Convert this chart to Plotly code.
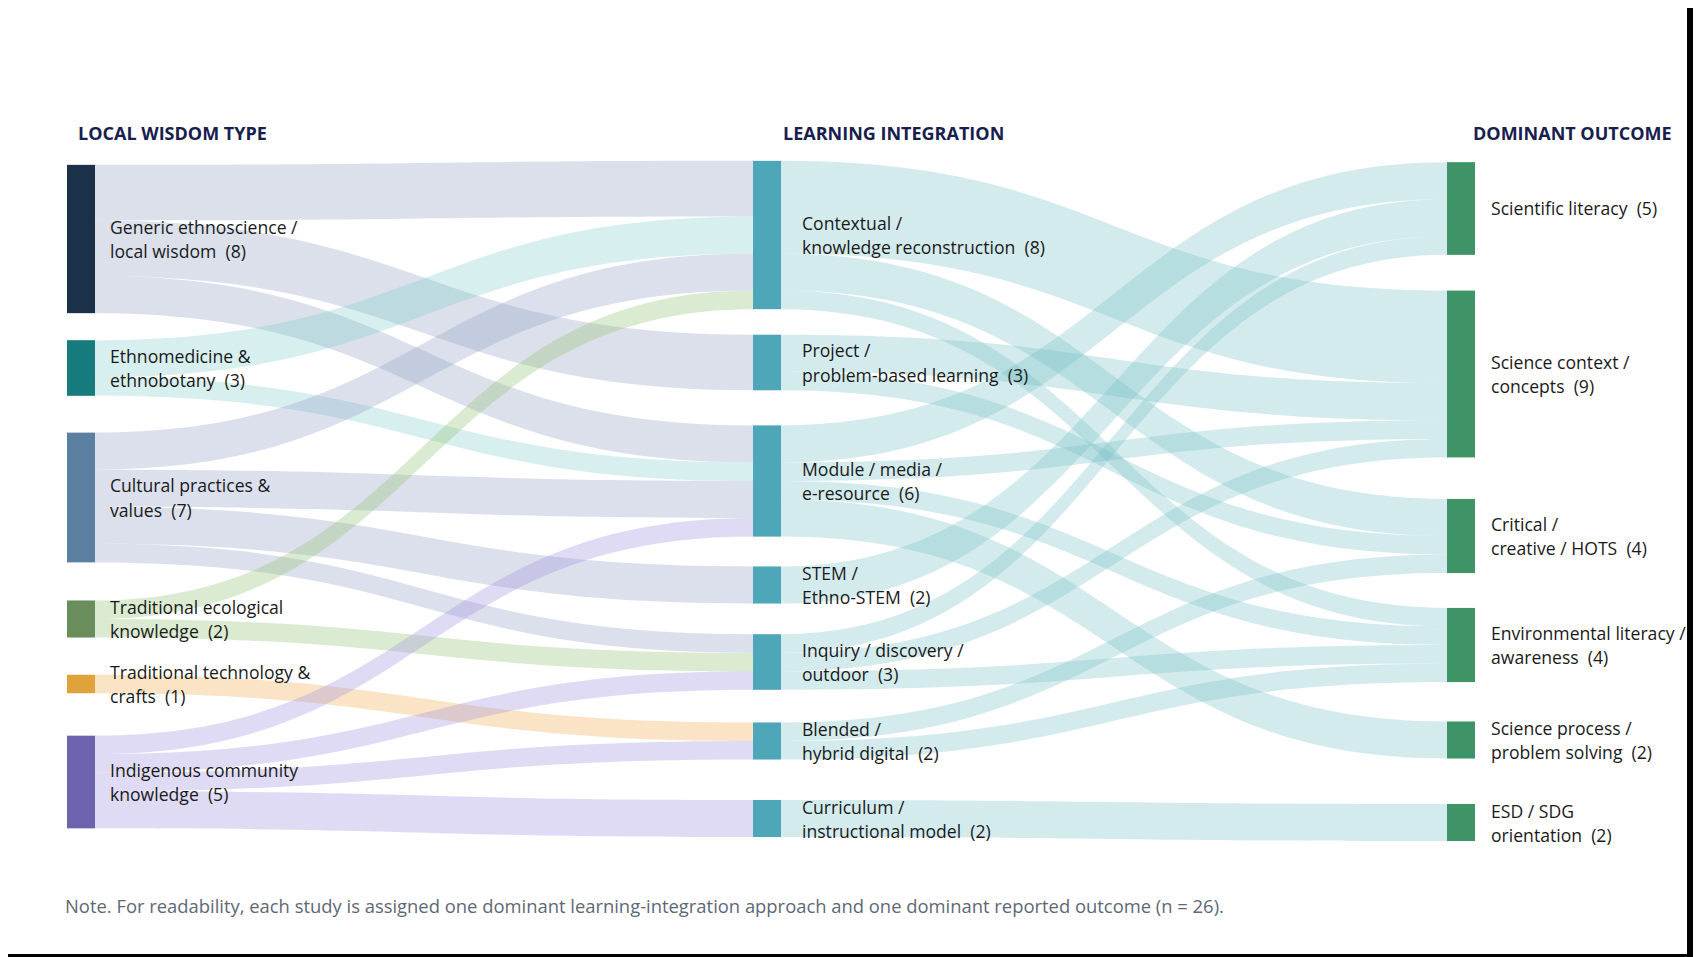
import plotly.graph_objects as go

# ---------------- data ----------------
local_wisdom = ["Generic ethnoscience /<br>local wisdom", "Ethnomedicine &<br>ethnobotany",
                "Cultural practices &<br>values", "Traditional ecological<br>knowledge",
                "Traditional technology &<br>crafts", "Indigenous community<br>knowledge"]
integration = ["Contextual /<br>knowledge reconstruction", "Project /<br>problem-based learning",
               "Module / media /<br>e-resource", "STEM /<br>Ethno-STEM", "Inquiry / discovery /<br>outdoor",
               "Blended /<br>hybrid digital", "Curriculum /<br>instructional model"]
outcomes = ["Scientific literacy", "Science context /<br>concepts", "Critical /<br>creative / HOTS",
            "Environmental literacy /<br>awareness", "Science process /<br>problem solving",
            "ESD / SDG<br>orientation"]

# stage 1: local wisdom type -> learning integration
s1_source = [0, 0, 0, 1, 1, 2, 2, 2, 2, 3, 3, 4, 5, 5, 5, 5]
s1_target = [0, 1, 2, 0, 2, 0, 2, 3, 4, 0, 4, 5, 2, 4, 5, 6]
s1_value = [3, 3, 2, 2, 1, 2, 2, 2, 1, 1, 1, 1, 1, 1, 1, 2]

# stage 2: learning integration -> dominant outcome
s2_source = [0, 0, 0, 1, 1, 2, 2, 2, 2, 3, 4, 4, 4, 5, 5, 6]
s2_target = [1, 2, 3, 1, 2, 0, 1, 3, 4, 0, 0, 1, 3, 2, 3, 5]
s2_value = [5, 2, 1, 2, 1, 2, 1, 1, 2, 2, 1, 1, 1, 1, 1, 2]

column_titles = ["LOCAL WISDOM TYPE", "LEARNING INTEGRATION", "DOMINANT OUTCOME"]
note_text = ("Note. For readability, each study is assigned one dominant learning-integration "
             "approach and one dominant reported outcome (n = 26).")

# ---------------- layout / style ----------------
SCREEN_W, SCREEN_H = 1701, 957
OFF = 8                              # page body margin
W, H = SCREEN_W - OFF, SCREEN_H - OFF  # figure size


def fx(x):  # screen px -> figure px
    return x - OFF


Y_TOP, Y_BOT = 150, 860            # screen px extent of the sankey domain
COL_X = [81, 767, 1461]            # node centre x (screen px)
LABEL_X = [108, 800, 1489]         # label start x (screen px)
left_cy = [239, 368, 497.5, 619, 684, 782]
mid_cy = [235, 362.5, 481, 585, 662, 741, 818.5]
right_cy = [208.5, 374, 536, 645, 740, 822.5]
LINE_H = 24                        # label line spacing (px)

left_colors = ["#1b3049", "#177b7d", "#5b7fa0", "#6a8d5c", "#e0a23a", "#6c62ad"]
left_link_colors = ["rgba(150,163,195,0.34)", "rgba(130,205,205,0.32)", "rgba(150,165,198,0.34)",
                    "rgba(150,195,120,0.34)", "rgba(242,170,75,0.32)", "rgba(160,150,222,0.34)"]
mid_color = "#4ea6b9"
right_color = "#3e9466"
mid_link_color = "rgba(112,188,196,0.30)"

FONT = "Open Sans, Noto Sans, sans-serif"

nL, nM, nR = len(local_wisdom), len(integration), len(outcomes)

sources = list(s1_source) + [s + nL for s in s2_source]
targets = [t + nL for t in s1_target] + [t + nL + nM for t in s2_target]
values = list(s1_value) + list(s2_value)
link_colors = [left_link_colors[s] for s in s1_source] + [mid_link_color] * len(s2_source)

node_x = [fx(COL_X[0]) / W] * nL + [fx(COL_X[1]) / W] * nM + [fx(COL_X[2]) / W] * nR
node_y = [(c - Y_TOP) / (Y_BOT - Y_TOP) for c in left_cy + mid_cy + right_cy]
node_colors = left_colors + [mid_color] * nM + [right_color] * nR

fig = go.Figure(go.Sankey(
    arrangement="fixed",
    domain=dict(x=[0, 1], y=[1 - fx(Y_BOT) / H, 1 - fx(Y_TOP) / H]),
    node=dict(
        label=[""] * (nL + nM + nR),
        x=node_x, y=node_y,
        color=node_colors,
        thickness=28, pad=38,
        line=dict(width=0),
    ),
    link=dict(source=sources, target=targets, value=values, color=link_colors),
))

# counts per node from flows
left_counts = [sum(v for s, v in zip(s1_source, s1_value) if s == i) for i in range(nL)]
mid_counts = [sum(v for s, v in zip(s2_source, s2_value) if s == i) for i in range(nM)]
right_counts = [sum(v for t, v in zip(s2_target, s2_value) if t == i) for i in range(nR)]


def px(x):
    return fx(x) / W


def py(y):
    return 1 - fx(y) / H


annotations = []
for col, (names, counts, cys) in enumerate([(local_wisdom, left_counts, left_cy),
                                              (integration, mid_counts, mid_cy),
                                              (outcomes, right_counts, right_cy)]):
    for name, cnt, cy in zip(names, counts, cys):
        lines = name.split("<br>")
        lines[-1] = f"{lines[-1]}\u00a0 ({cnt})"
        n = len(lines)
        for i, ln in enumerate(lines):
            annotations.append(dict(
                x=px(LABEL_X[col]), y=py(cy + (i - (n - 1) / 2) * LINE_H),
                xref="paper", yref="paper",
                text=ln, showarrow=False,
                xanchor="left", yanchor="middle", align="left",
                font=dict(family=FONT, size=17.6, color="#1a1a1a"),
            ))

TITLE_X = [76, 781, 1471]
for tx, title in zip(TITLE_X, column_titles):
    annotations.append(dict(
        x=px(tx), y=py(133), xref="paper", yref="paper", text=f"<b>{title}</b>",
        showarrow=False, xanchor="left", yanchor="middle",
        font=dict(family=FONT, size=18, color="#17204d"),
    ))

annotations.append(dict(
    x=px(63), y=py(905), xref="paper", yref="paper", text=note_text,
    showarrow=False, xanchor="left", yanchor="middle",
    font=dict(family=FONT, size=18.4, color="#5d6875"),
))

shapes = [
    dict(type="rect", xref="paper", yref="paper", x0=px(1687), x1=1, y0=0, y1=1,
         fillcolor="black", line=dict(width=0)),
    dict(type="rect", xref="paper", yref="paper", x0=0, x1=1, y0=0, y1=py(954),
         fillcolor="black", line=dict(width=0)),
]

fig.update_layout(
    width=W, height=H,
    margin=dict(l=0, r=0, t=0, b=0),
    paper_bgcolor="white", plot_bgcolor="white",
    annotations=annotations, shapes=shapes,
    font=dict(family=FONT),
)

fig.write_html("out.html")
